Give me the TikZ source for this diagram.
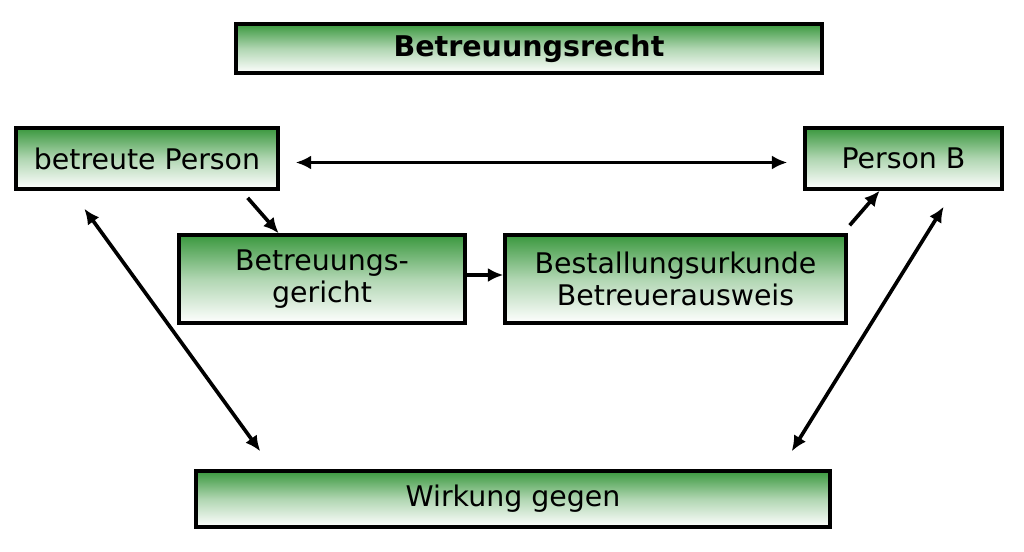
\documentclass[tikz,border=0pt]{standalone}
\usepackage{fontspec}
\setmainfont{DejaVu Sans}
\usetikzlibrary{positioning,arrows.meta}
\definecolor{boxgreen}{RGB}{58,152,62}

\begin{document}
\begin{tikzpicture}[>={Latex[length=11pt,width=10pt]},node distance=2.5cm,on grid]

    \tikzset{box/.style={draw,rectangle,line width=2.4pt,top color=boxgreen,bottom color=white,
      middle color=boxgreen!40,font=\fontsize{20.2}{23}\selectfont,align=center,inner sep=0pt},
      conn/.style={line width=2.6pt,line cap=butt}}
    \useasboundingbox (0,0) rectangle (25.6,-13.8);
    \node[box,minimum width=14.65cm,minimum height=1.225cm,font=\bfseries\fontsize{20.3}{23}\selectfont] (recht) at (13.225,-1.2125) {Betreuungsrecht};
    \node[box,minimum width=6.55cm,minimum height=1.525cm] (person) [below left = 2.75cm and 9.55cm of recht] {betreute Person};
    \node[box,minimum width=4.925cm,minimum height=1.525cm] (personb) [right = 18.9125cm of person] {Person B};
    \node[box,minimum width=7.15cm,minimum height=2.2cm] (gericht) [below right = 3.0125cm and 4.375cm of person] {Betreuungs-\\gericht};
    \node[box,minimum width=8.525cm,minimum height=2.2cm] (urkunde) [right = 8.8375cm of gericht] {Bestallungsurkunde\\Betreuerausweis};
    \node[box,minimum width=15.85cm,minimum height=1.4cm] (wirkung) [below right = 5.5cm and 4.775cm of gericht] {Wirkung gegen};

    \path[conn,<->]
    (person.east) ++(0.4,-0.1) coordinate (pl)
    (personb.west) ++(-0.4,-0.1) coordinate (pr)
    (pl) edge [] (pr);
    \draw[conn,->] ([xshift=-0.8cm,yshift=-0.18cm]person.south east) -- ([xshift=-4.7cm]gericht.north east);
    \draw[conn,->] (gericht.east |- 0,-6.875) -- (urkunde.west |- 0,-6.875);
    \draw[conn,->] ([xshift=0.05cm,yshift=0.2cm]urkunde.north east) -- ([xshift=-3.1cm]personb.south east);
    \draw[conn,<->] ([xshift=1.75cm,yshift=-0.45cm]person.south west) -- ([xshift=1.65cm,yshift=0.45cm]wirkung.north west);
    \draw[conn,<->] ([xshift=-1.5cm,yshift=-0.4cm]personb.south east) -- ([xshift=-1cm,yshift=0.45cm]wirkung.north east);
  \end{tikzpicture}
\end{document}
